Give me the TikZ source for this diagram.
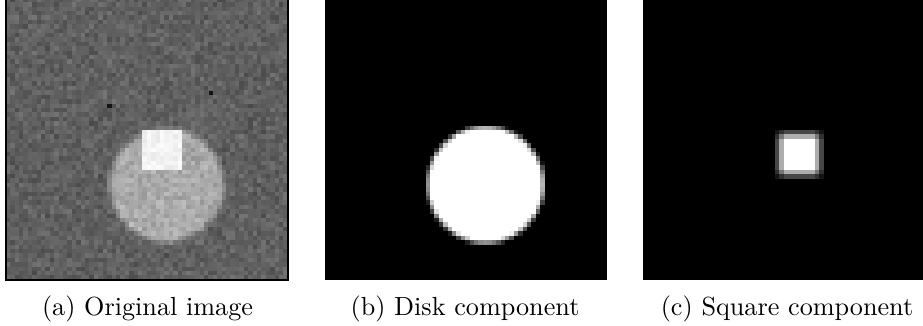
\documentclass[tikz,border=0pt]{standalone}
\begin{document}
\begin{tikzpicture}[x=0.382pt,y=-0.382pt,
  caption/.style={anchor=base,inner sep=0pt,font=\normalsize}]
\useasboundingbox (0,0) rectangle (923,325);
\pgfmathsetseed{11}
\def\pxs{4.40625}
\def\pxo{0.25}
% ---------- (a) original image ----------
\begin{scope}[shift={(6,-2)}]
\foreach \i in {0,...,63}{
  \foreach \j in {0,...,63}{
    \pgfmathsetmacro{\dd}{sqrt((\i+0.5-36.5)^2+(\j+0.5-42.5)^2)}
    \pgfmathsetmacro{\dk}{max(0,min(1,(12.9-\dd)/1.6+0.5))}
    \pgfmathsetmacro{\sq}{(\i>30)&&(\i<40)&&(\j>29)&&(\j<39)}
    \pgfmathsetmacro{\vv}{ifthenelse(\sq>0.5, 0.95+0.04*rand, 0.375+0.29*\dk+0.045*(rand+rand))}
    \pgfmathsetmacro{\pp}{100*max(0,min(1,\vv))}
    \fill[white!\pp!black] (\i*\pxs-\pxo,\j*\pxs-\pxo) rectangle ++(\pxs+2*\pxo,\pxs+2*\pxo);
  }}
\fill[black!92] (23*\pxs,24*\pxs) rectangle ++(\pxs,\pxs);
\fill[black!92] (46*\pxs,21*\pxs) rectangle ++(\pxs,\pxs);
\draw[line width=0.6pt] (0,0) rectangle (64*\pxs,64*\pxs);
\end{scope}
% ---------- (b) disk component ----------
\begin{scope}[shift={(324.5,-2)}]
\fill[black] (0,0) rectangle (64*\pxs,64*\pxs);
\foreach \i in {21,...,52}{
  \foreach \j in {27,...,58}{
    \pgfmathsetmacro{\dd}{sqrt((\i+0.5-36.6)^2+(\j+0.5-42.4)^2)}
    \pgfmathsetmacro{\pp}{100*max(0,min(1,(13.2-\dd)/1.4+0.5))}
    \fill[white!\pp!black] (\i*\pxs-\pxo,\j*\pxs-\pxo) rectangle ++(\pxs+2*\pxo,\pxs+2*\pxo);
  }}
\end{scope}
% ---------- (c) square component ----------
\begin{scope}[shift={(643,-2)}]
\fill[black] (0,0) rectangle (64*\pxs,64*\pxs);
\foreach \i/\fa in {30/0.28,31/0.68,32/1,33/1,34/1,35/1,36/1,37/1,38/1,39/0.68,40/0.28}{
  \foreach \j/\fb in {30/0.28,31/0.68,32/1,33/1,34/1,35/1,36/1,37/1,38/1,39/0.68,40/0.28}{
    \pgfmathsetmacro{\pp}{100*\fa*\fb}
    \fill[white!\pp!black] (\i*\pxs-\pxo,\j*\pxs-\pxo) rectangle ++(\pxs+2*\pxo,\pxs+2*\pxo);
  }}
\end{scope}
% ---------- captions ----------
\node[caption] (capa) at (147.5,315) {(a) Original image};
\node[caption] (capb) at (465,315) {(b) Disk component};
\node[caption] (capc) at (787,315) {(c) Square component};
\end{tikzpicture}
\end{document}
